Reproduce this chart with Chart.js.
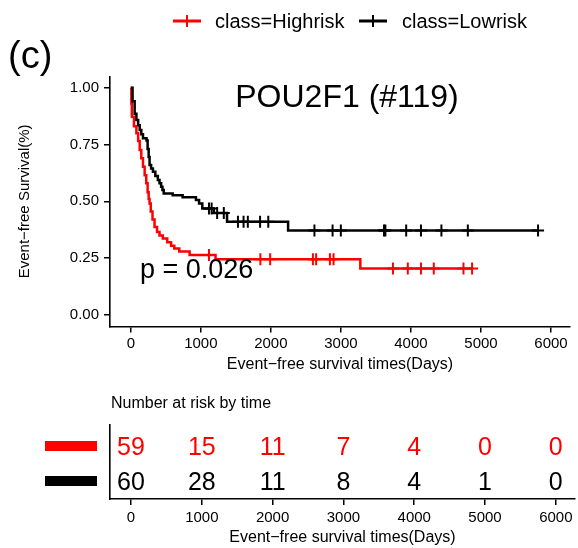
<!DOCTYPE html>
<html>
<head>
<meta charset="utf-8">
<script src="https://cdn.jsdelivr.net/npm/chart.js@4.4.0/dist/chart.umd.min.js"></script>
<style>
  html, body { margin: 0; padding: 0; background: #fff; }
  #wrap { position: relative; width: 578px; height: 548px; }
  #km { position: absolute; left: 0; top: 0; }
  #risk { position: absolute; left: 0; top: 380px; }
</style>
</head>
<body>
<div id="wrap">
  <canvas id="km" width="578" height="380"></canvas>
  <canvas id="risk" width="578" height="168"></canvas>
</div>
<script>
// Kaplan-Meier curve, POU2F1 (#119)

var xTicks = [0, 1000, 2000, 3000, 4000, 5000, 6000];
var yTicks = [0, 0.25, 0.5, 0.75, 1];

// [time, survival after that time]
var highCurve = [
  [0, 1.00], [8, 0.93], [15, 0.872], [45, 0.83], [80, 0.80], [105, 0.765],
  [127, 0.726], [150, 0.69], [174, 0.652], [198, 0.615], [221, 0.58],
  [240, 0.54], [255, 0.51], [268, 0.49], [285, 0.455], [310, 0.42],
  [339, 0.387], [375, 0.365], [410, 0.35], [457, 0.337], [520, 0.32],
  [575, 0.305], [621, 0.293], [692, 0.279], [840, 0.264], [1210, 0.245],
  [3277, 0.205], [4873, 0.205]
];
var lowCurve = [
  [0, 1.00], [25, 0.94], [55, 0.885], [80, 0.858], [105, 0.835], [127, 0.814],
  [150, 0.795], [174, 0.777], [225, 0.768], [240, 0.73], [255, 0.695],
  [268, 0.66], [290, 0.645], [316, 0.63], [350, 0.612], [386, 0.594],
  [410, 0.58], [433, 0.564], [452, 0.55], [470, 0.535], [598, 0.527],
  [740, 0.518], [930, 0.506], [975, 0.49], [1021, 0.469], [1186, 0.449],
  [1374, 0.41], [2246, 0.372], [5815, 0.372]
];

// censored times
var highCensor = [1116, 1850, 1990, 2600, 2646, 2843, 2895, 3743, 3955, 4143, 4326, 4750, 4873];
var lowCensor = [1116, 1154, 1233, 1328, 1530, 1610, 1671, 1846, 1963, 2622, 2881, 2999,
                 3615, 3635, 3932, 4143, 4435, 4812, 5815];

// number at risk table
var riskTimes = [0, 1000, 2000, 3000, 4000, 5000, 6000];
var riskHigh = [59, 15, 11, 7, 4, 0, 0];
var riskLow = [60, 28, 11, 8, 4, 1, 0];

var FONT = '"Liberation Sans", Arial, Helvetica, sans-serif';
Chart.defaults.font.family = FONT;
Chart.defaults.color = '#000';

function survAt(curve, t) {
  var s = curve[0][1];
  curve.forEach(function(p) { if (p[0] <= t) s = p[1]; });
  return s;
}
function toXY(curve) {
  return curve.map(function(p) { return {x: p[0], y: p[1]}; });
}
function censorXY(curve, times) {
  return times.map(function(t) { return {x: t, y: survAt(curve, t)}; });
}
function plainTick(v) { return String(v); }

var kmLabels = {
  id: 'kmLabels',
  afterDraw: function(chart) {
    var ctx = chart.ctx;
    ctx.save();
    ctx.fillStyle = '#000';
    ctx.textBaseline = 'alphabetic';

    ctx.font = '38px ' + FONT;
    ctx.textAlign = 'left';
    ctx.fillText('(c)', 8, 68);

    ctx.font = '32px ' + FONT;
    ctx.textAlign = 'center';
    ctx.fillText('POU2F1 (#119)', 347, 107);

    ctx.font = '27px ' + FONT;
    ctx.textAlign = 'left';
    ctx.fillText('p = 0.026', 140, 278);

    // legend
    var keys = [['red', 187, 'class=Highrisk', 215], ['#000', 373, 'class=Lowrisk', 402]];
    keys.forEach(function(k) {
      ctx.strokeStyle = k[0];
      ctx.lineWidth = 3;
      ctx.beginPath(); ctx.moveTo(k[1] - 14, 21); ctx.lineTo(k[1] + 14, 21); ctx.stroke();
      ctx.lineWidth = 2;
      ctx.beginPath(); ctx.moveTo(k[1], 15); ctx.lineTo(k[1], 27); ctx.stroke();
      ctx.fillStyle = '#000';
      ctx.font = '20px ' + FONT;
      ctx.textAlign = 'left';
      ctx.textBaseline = 'middle';
      ctx.fillText(k[2], k[3], 22);
    });
    ctx.restore();
  }
};

new Chart(document.getElementById('km').getContext('2d'), {
  type: 'line',
  data: {
    datasets: [
      { label: 'class=Lowrisk', data: toXY(lowCurve), borderColor: '#000', borderWidth: 2.5,
        stepped: true, pointRadius: 0, fill: false, order: 0 },
      { label: 'lowCensor', type: 'scatter', data: censorXY(lowCurve, lowCensor), showLine: false,
        pointStyle: 'cross', pointRadius: 6, borderColor: '#000', borderWidth: 2, order: 0 },
      { label: 'class=Highrisk', data: toXY(highCurve), borderColor: 'red', borderWidth: 2.5,
        stepped: true, pointRadius: 0, fill: false, order: 1 },
      { label: 'highCensor', type: 'scatter', data: censorXY(highCurve, highCensor), showLine: false,
        pointStyle: 'cross', pointRadius: 6, borderColor: 'red', borderWidth: 2, order: 1 }
    ]
  },
  options: {
    responsive: false,
    devicePixelRatio: 1,
    animation: false,
    events: [],
    layout: { padding: { top: 76.3, right: 3, left: 16, bottom: 0 } },
    plugins: { legend: { display: false }, tooltip: { enabled: false } },
    scales: {
      x: {
        type: 'linear', min: -297, max: 6271,
        afterBuildTicks: function(s) { s.ticks = xTicks.map(function(v) { return {value: v}; }); },
        afterFit: function(s) { s.height = 53.6; },
        ticks: { font: { size: 15 }, color: '#000', padding: 2, maxRotation: 0, autoSkip: false,
                 callback: plainTick },
        grid: { drawOnChartArea: false, drawTicks: true, tickLength: 6, color: '#000', lineWidth: 1.5 },
        border: { color: '#000', width: 1.6 },
        title: { display: true, text: 'Event\u2212free survival times(Days)', font: { size: 16 },
                 color: '#000', padding: { top: 0, bottom: 5.4 } }
      },
      y: {
        type: 'linear', min: -0.05, max: 1.05,
        afterBuildTicks: function(s) { s.ticks = yTicks.map(function(v) { return {value: v}; }); },
        afterFit: function(s) { s.width = 94; },
        ticks: { font: { size: 15 }, color: '#000', padding: 5,
                 callback: function(v) { return v.toFixed(2); } },
        grid: { drawOnChartArea: false, drawTicks: true, tickLength: 6, color: '#000', lineWidth: 1.5 },
        border: { color: '#000', width: 1.6 },
        title: { display: true, text: 'Event\u2212free Survival(%)', font: { size: 15 },
                 color: '#000', padding: { top: 0, bottom: 0 } }
      }
    }
  },
  plugins: [kmLabels]
});

// Number at risk table
var riskLabels = {
  id: 'riskLabels',
  afterDatasetsDraw: function(chart) {
    var ctx = chart.ctx;
    ctx.save();
    ctx.font = '16px ' + FONT;
    ctx.fillStyle = '#000';
    ctx.textAlign = 'left';
    ctx.textBaseline = 'middle';
    ctx.fillText('Number at risk by time', 111, 24);

    ctx.font = '25px ' + FONT;
    ctx.textAlign = 'center';
    ctx.textBaseline = 'alphabetic';
    chart.data.datasets.forEach(function(ds, i) {
      var meta = chart.getDatasetMeta(i);
      ctx.fillStyle = ds.borderColor;
      meta.data.forEach(function(pt, j) {
        ctx.fillText(String(ds.counts[j]), pt.x, pt.y + 9);
      });
      // colored key on the y axis
      var yy = meta.data[0].y;
      ctx.fillRect(45, yy - 5, 52, 10);
    });
    ctx.restore();
  }
};

new Chart(document.getElementById('risk').getContext('2d'), {
  type: 'scatter',
  data: {
    datasets: [
      { label: 'Highrisk', counts: riskHigh, borderColor: 'red', pointRadius: 0,
        data: riskTimes.map(function(t) { return {x: t, y: 2}; }) },
      { label: 'Lowrisk', counts: riskLow, borderColor: '#000', pointRadius: 0,
        data: riskTimes.map(function(t) { return {x: t, y: 1}; }) }
    ]
  },
  options: {
    responsive: false,
    devicePixelRatio: 1,
    animation: false,
    events: [],
    layout: { padding: { top: 45, right: 3, left: 0, bottom: 0 } },
    plugins: { legend: { display: false }, tooltip: { enabled: false } },
    scales: {
      x: {
        type: 'linear', min: -297, max: 6271,
        afterBuildTicks: function(s) { s.ticks = riskTimes.map(function(v) { return {value: v}; }); },
        afterFit: function(s) { s.height = 49; },
        ticks: { font: { size: 15 }, color: '#000', padding: 4, maxRotation: 0, autoSkip: false,
                 callback: plainTick },
        grid: { drawOnChartArea: false, drawTicks: true, tickLength: 6, color: '#000', lineWidth: 1.5 },
        border: { color: '#000', width: 1.6 },
        title: { display: true, text: 'Event\u2212free survival times(Days)', font: { size: 16 },
                 color: '#000', padding: { top: 0, bottom: 0.4 } }
      },
      y: {
        type: 'linear', min: 0.486, max: 2.6,
        afterFit: function(s) { s.width = 110; },
        ticks: { display: false },
        grid: { display: false },
        border: { color: '#000', width: 1.6 }
      }
    }
  },
  plugins: [riskLabels]
});
</script>
</body>
</html>
